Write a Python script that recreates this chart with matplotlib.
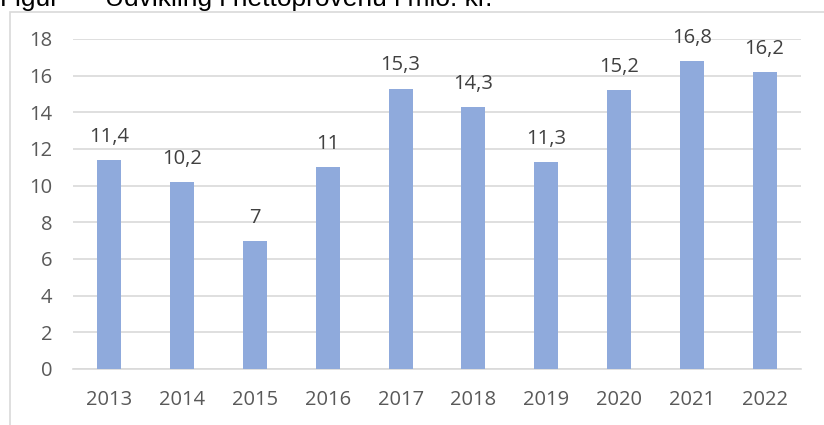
import matplotlib.pyplot as plt
from matplotlib.patches import Rectangle

# Data
years = ['2013', '2014', '2015', '2016', '2017', '2018', '2019', '2020', '2021', '2022']
values = [11.4, 10.2, 7, 11, 15.3, 14.3, 11.3, 15.2, 16.8, 16.2]
labels = ['11,4', '10,2', '7', '11', '15,3', '14,3', '11,3', '15,2', '16,8', '16,2']
yticks = [0, 2, 4, 6, 8, 10, 12, 14, 16, 18]

plt.rcParams['font.family'] = ['Open Sans', 'DejaVu Sans']

W, H = 824, 425
fig = plt.figure(figsize=(W / 100, H / 100), dpi=100)

# chart frame (light grey border, left and top visible)
fig.add_artist(Rectangle((10 / W, -0.05), 1.1, 1 - 12 / H + 0.05,
                         transform=fig.transFigure, fill=False,
                         edgecolor='#d9d9d9', linewidth=1.2))

# caption at the top, cut off by the image edge
fig.text(0 / W, 1 - 6 / H, 'Figur', fontsize=19, family='Liberation Sans',
         va='baseline', ha='left', color='black')
fig.text(105 / W, 1 - 6 / H, 'Udvikling i nettoprovenu i mio. kr.', fontsize=19,
         family='Liberation Sans', va='baseline', ha='left', color='black')

ax = fig.add_axes([73 / W, 1 - 369 / H, (801 - 73) / W, (369 - 39) / H])
x = range(len(years))
ax.bar(x, values, width=0.33, color='#8faadc', zorder=3)
for xi, v, lab in zip(x, values, labels):
    ax.annotate(lab, (xi, v), xytext=(0, 13), textcoords='offset points',
                ha='center', va='baseline', fontsize=14.5, color='#404040',
                annotation_clip=False)

ax.set_xlim(-0.5, 9.5)
ax.set_ylim(0, 18)
ax.set_yticks(yticks)
ax.set_xticks(list(x))
ax.set_xticklabels(years)
ax.yaxis.grid(True, color='#d9d9d9', linewidth=1.2, zorder=0)
for s in ['top', 'right', 'left']:
    ax.spines[s].set_visible(False)
ax.spines['bottom'].set_color('#d9d9d9')
ax.spines['bottom'].set_linewidth(1.2)
ax.tick_params(axis='both', length=0, labelsize=14.5, labelcolor='#595959')
ax.tick_params(axis='y', pad=15)
ax.tick_params(axis='x', pad=15)

fig.savefig('out.png', dpi=100)
